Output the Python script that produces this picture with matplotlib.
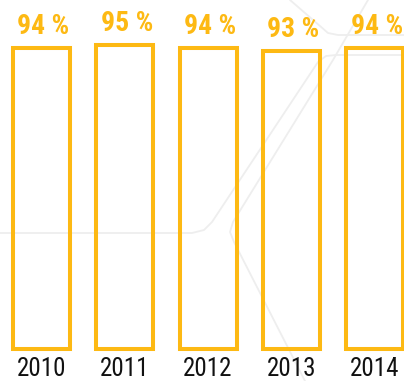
import matplotlib
matplotlib.use("Agg")
import matplotlib.pyplot as plt
from matplotlib import font_manager

years = ["2010", "2011", "2012", "2013", "2014"]
rates = [94, 95, 94, 93, 94]

BAR_COLOR = "#FDB913"
DECOR_COLOR = "#EEEEEE"

# pick a narrow face if one is around, otherwise squeeze DejaVu
installed = {f.name for f in font_manager.fontManager.ttflist}
FONT = "DejaVu Sans"
for name in ["Roboto Condensed", "Liberation Sans Narrow", "DejaVu Sans Condensed"]:
    if name in installed:
        FONT = name
        break
plt.rcParams["font.family"] = [FONT, "DejaVu Sans"]
plt.rcParams["font.stretch"] = "condensed"

W, H = 404, 381
fig = plt.figure(figsize=(W / 100, H / 100), dpi=100)

# faint background strokes, drawn in pixel space
bg = fig.add_axes([0, 0, 1, 1], zorder=0)
bg.set_xlim(0, W)
bg.set_ylim(H, 0)
bg.axis("off")
strokes = [
    [(290, 0), (320, 26), (328, 33), (338, 35), (404, 35)],
    [(0, 233), (192, 233), (204, 230), (212, 222), (318, 62), (326, 56), (336, 55), (404, 55)],
    [(368, 0), (333, 60), (233, 222), (230, 232), (234, 242), (305, 381)],
]
for pts in strokes:
    xs, ys = zip(*pts)
    bg.plot(xs, ys, color=DECOR_COLOR, lw=1.3, solid_capstyle="round", solid_joinstyle="round")

# bar area: baseline sits 32 px above the bottom edge
ax = fig.add_axes([0, 32 / H, 1, 349 / H], zorder=1)
ax.patch.set_visible(False)
step = 83.3
ax.set_xlim(-41.5 / step, (W - 41.5) / step)
ax.set_ylim(0, 349 / 3.202)

x = list(range(len(years)))
bars = ax.bar(x, rates, width=0.685, facecolor="none", edgecolor=BAR_COLOR,
              linewidth=2.9, clip_on=False)
for b in bars:
    b.set_joinstyle("miter")

for xi, v in zip(x, rates):
    ax.annotate(f"{v} %", (xi, v), xytext=(1.5, 10), textcoords="offset points",
                ha="center", va="baseline", color=BAR_COLOR,
                fontsize=20, fontweight="bold", annotation_clip=False)

ax.set_xticks(x, years, fontsize=18, color="#111111")
ax.set_yticks([])
ax.tick_params(axis="x", length=0, pad=6)
for lbl in ax.get_xticklabels():
    lbl.set_x(lbl.get_position()[0])
for s in ax.spines.values():
    s.set_visible(False)

fig.savefig("out.png", dpi=100, facecolor="white")
